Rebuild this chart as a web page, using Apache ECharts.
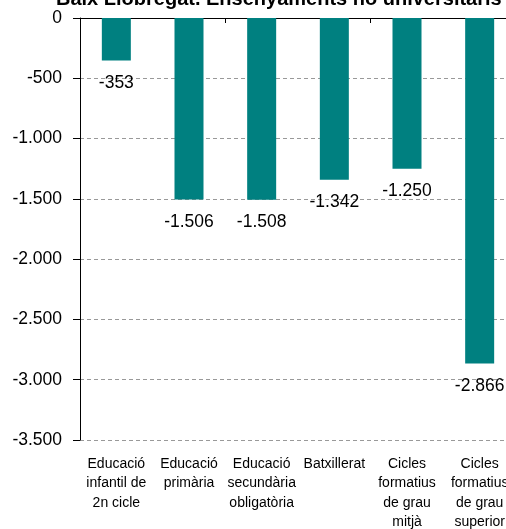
<!DOCTYPE html>
<html>
<head>
<meta charset="utf-8">
<script src="https://cdn.jsdelivr.net/npm/echarts@6/dist/echarts.min.js"></script>
<style>html,body{margin:0;padding:0;background:#fff}#c{width:506px;height:529px}</style>
</head>
<body>
<div id="c"></div>
<script>
const titleText = 'Baix Llobregat. Ensenyaments no universitaris';
const categories = [
  'Educació\ninfantil de\n2n cicle',
  'Educació\nprimària',
  'Educació\nsecundària\nobligatòria',
  'Batxillerat',
  'Cicles\nformatius\nde grau\nmitjà',
  'Cicles\nformatius\nde grau\nsuperior'
];
const values = [-353, -1506, -1508, -1342, -1250, -2866];
const yMin = -3500, yMax = 0, yStep = 500;

function fmt(v) {
  if (v === 0) return '0';
  const s = Math.abs(v).toString().replace(/\B(?=(\d{3})+(?!\d))/g, '.');
  return (v < 0 ? '-' : '') + s;
}

const FONT = '"Liberation Sans", Arial, sans-serif';
const chart = echarts.init(document.getElementById('c'), null, {renderer: 'canvas'});
chart.setOption({
  animation: false,
  backgroundColor: '#fff',
  title: {
    text: titleText,
    left: 51, top: -16,
    textStyle: {fontFamily: FONT, fontSize: 20, fontWeight: 'bold', color: '#000'}
  },
  grid: {left: 80, top: 18, width: 436, height: 422, containLabel: false, outerBoundsMode: 'none'},
  xAxis: [
    {
      type: 'category', data: categories, position: 'bottom',
      axisLine: {show: false}, axisTick: {show: false},
      axisLabel: {interval: 0, margin: 14, fontFamily: FONT, fontSize: 14, lineHeight: 19.5, color: '#000'}
    },
    {
      type: 'category', data: categories, position: 'top',
      axisLine: {show: true, lineStyle: {color: '#000', width: 1}},
      axisTick: {show: true, inside: true, length: 5, lineStyle: {color: '#000'}},
      axisLabel: {show: false}
    }
  ],
  yAxis: {
    type: 'value', min: yMin, max: yMax, interval: yStep,
    axisLine: {show: true, lineStyle: {color: '#000', width: 1}},
    axisTick: {show: true, length: 7, lineStyle: {color: '#000'}},
    axisLabel: {margin: 18, formatter: fmt, fontFamily: FONT, fontSize: 17.5, color: '#000'},
    splitLine: {show: true, lineStyle: {color: '#999', type: [4, 3], width: 1}}
  },
  series: [{
    type: 'bar', data: values, xAxisIndex: 0, barWidth: 29,
    itemStyle: {color: '#008080'},
    label: {
      show: true, position: 'bottom', distance: 13.5, formatter: p => fmt(p.value),
      fontFamily: FONT, fontSize: 17.5, color: '#000'
    }
  }]
});
</script>
</body>
</html>
